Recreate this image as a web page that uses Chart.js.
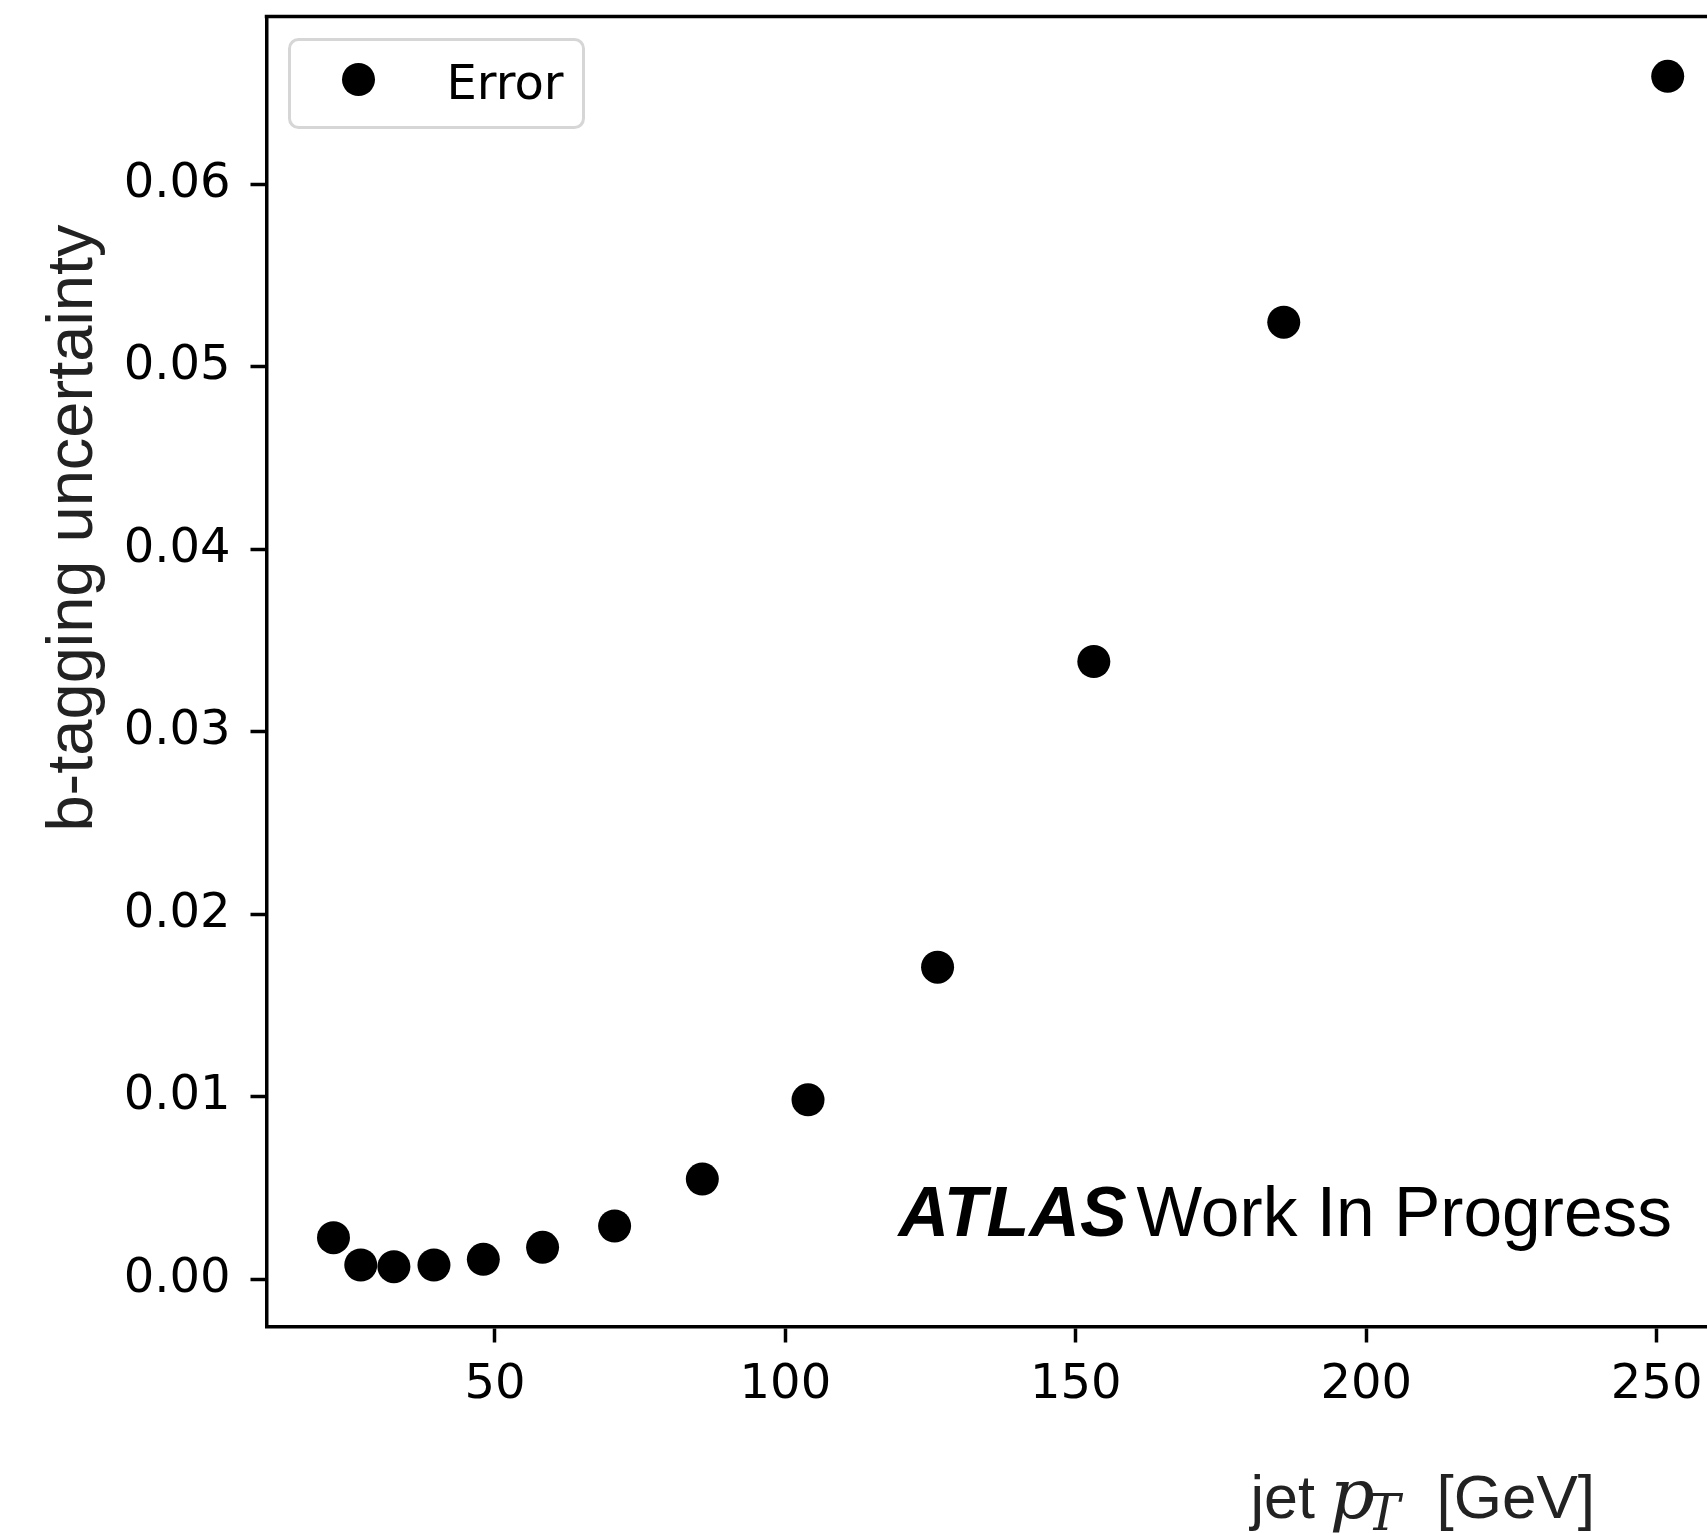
<!DOCTYPE html>
<html>
<head>
<meta charset="utf-8">
<script src="https://cdn.jsdelivr.net/npm/chart.js@4/dist/chart.umd.min.js"></script>
<style>
  html, body { margin: 0; padding: 0; background: #ffffff; overflow: hidden; }
  #wrap { width: 1760px; height: 1533px; }
</style>
</head>
<body>
<div id="wrap"><canvas id="c" width="1760" height="1533"></canvas></div>
<script>
// ---- data ----
const seriesLabel = 'Error';
const jetPt = [22.2, 26.9, 32.6, 39.5, 48.0, 58.2, 70.6, 85.7, 103.9, 126.2, 153.1, 185.8, 251.9];
const btagUncertainty = [0.00228, 0.00078, 0.00069, 0.00078, 0.00109, 0.00175, 0.00292, 0.00549, 0.00983, 0.01710, 0.03385, 0.05244, 0.06591];
const xTickValues = [50, 100, 150, 200, 250];
const yTickValues = [0.00, 0.01, 0.02, 0.03, 0.04, 0.05, 0.06];
const yAxisTitle = 'b-tagging uncertainty';
const xAxisTitleParts = ['jet ', 'p', 'T', '  [GeV]'];
const atlasBold = 'ATLAS';
const atlasRest = 'Work In Progress';

const points = jetPt.map((x, i) => ({ x: x, y: btagUncertainty[i] }));

const SANS = '"DejaVu Sans"';
const HELV = '"Liberation Sans", Arial, sans-serif';

const framePlugin = {
  id: 'frame',
  afterDatasetsDraw(chart) {
    const { ctx, chartArea: a } = chart;
    ctx.save();
    ctx.strokeStyle = '#000';
    ctx.lineWidth = 3.5;
    ctx.beginPath();
    ctx.moveTo(a.left - 1.75, a.top);
    ctx.lineTo(a.right + 1.75, a.top);
    ctx.moveTo(a.right, a.top);
    ctx.lineTo(a.right, a.bottom);
    ctx.stroke();
    ctx.restore();
  },
  afterDraw(chart) {
    const { ctx, chartArea: a } = chart;
    const ds = chart.data.datasets[0];
    // legend box
    ctx.save();
    const lx = a.left + 23, ly = a.top + 23, lw = 294, lh = 88, r = 9;
    ctx.beginPath();
    ctx.roundRect(lx, ly, lw, lh, r);
    ctx.fillStyle = 'rgba(255,255,255,0.8)';
    ctx.fill();
    ctx.lineWidth = 3;
    ctx.strokeStyle = '#d6d6d6';
    ctx.stroke();
    ctx.beginPath();
    ctx.arc(lx + 69, ly + 40, ds.pointRadius, 0, Math.PI * 2);
    ctx.fillStyle = ds.backgroundColor;
    ctx.fill();
    ctx.fillStyle = '#000';
    ctx.font = '48px ' + SANS;
    ctx.textBaseline = 'alphabetic';
    ctx.textAlign = 'left';
    ctx.fillText(ds.label, lx + 157, ly + 59);
    ctx.restore();

    // ATLAS label
    ctx.save();
    ctx.fillStyle = '#000';
    ctx.textBaseline = 'alphabetic';
    ctx.textAlign = 'left';
    const ab = a.bottom - 90.5;
    ctx.font = 'italic bold 70px ' + HELV;
    ctx.fillText(atlasBold, a.left + 632, ab);
    ctx.font = '69.5px ' + HELV;
    ctx.fillText(atlasRest, a.left + 870, ab);
    ctx.restore();

    // y axis title
    ctx.save();
    ctx.fillStyle = '#222';
    ctx.font = '65px ' + HELV;
    ctx.translate(a.left - 174.5, a.top + 511.5);
    ctx.rotate(-Math.PI / 2);
    ctx.textAlign = 'center';
    ctx.textBaseline = 'alphabetic';
    ctx.fillText(yAxisTitle, 0, 0);
    ctx.restore();

    // x axis title: jet p_T [GeV]
    ctx.save();
    ctx.fillStyle = '#222';
    ctx.textBaseline = 'alphabetic';
    ctx.textAlign = 'left';
    const bx = a.left + 984, by = a.bottom + 191;
    ctx.font = '61px ' + HELV;
    ctx.fillText(xAxisTitleParts[0], bx, by);
    let x = bx + ctx.measureText(xAxisTitleParts[0]).width;
    ctx.font = 'italic 70px "DejaVu Serif"';
    ctx.fillText(xAxisTitleParts[1], x - 2, by);
    x += ctx.measureText(xAxisTitleParts[1]).width;
    ctx.font = 'italic 50px "DejaVu Serif"';
    ctx.fillText(xAxisTitleParts[2], x - 10, by + 12);
    x += ctx.measureText(xAxisTitleParts[2]).width - 8;
    ctx.font = '62px ' + HELV;
    ctx.fillText(xAxisTitleParts[3], x, by);
    ctx.restore();
  }
};

new Chart(document.getElementById('c'), {
  type: 'scatter',
  data: {
    datasets: [{
      label: seriesLabel,
      data: points,
      backgroundColor: '#000000',
      borderColor: '#000000',
      borderWidth: 0,
      pointRadius: 16.5,
      pointHoverRadius: 16.5,
      showLine: false
    }]
  },
  options: {
    responsive: false,
    animation: false,
    devicePixelRatio: 1,
    layout: { padding: { left: 0, top: 15, right: 25.5, bottom: 0 } },
    plugins: { legend: { display: false }, tooltip: { enabled: false } },
    scales: {
      x: {
        type: 'linear',
        position: 'bottom',
        min: 10.67,
        max: 263.4,
        afterFit(scale) {
          scale.height = 1533 - 1326.5;
          scale.paddingLeft = 0; scale.paddingRight = 0;
        },
        afterBuildTicks(scale) { scale.ticks = xTickValues.map(v => ({ value: v })); },
        grid: { drawOnChartArea: false, drawTicks: true, tickLength: 16, tickWidth: 3.5, tickColor: '#000' },
        border: { display: true, color: '#000', width: 3.5 },
        ticks: {
          color: '#000',
          font: { family: 'DejaVu Sans', size: 48 },
          padding: 14,
          maxRotation: 0,
          autoSkip: false,
          callback: v => String(v)
        }
      },
      y: {
        type: 'linear',
        min: -0.002589,
        max: 0.06919,
        afterFit(scale) {
          scale.width = 266.5;
          scale.paddingTop = 0; scale.paddingBottom = 0;
        },
        afterBuildTicks(scale) { scale.ticks = yTickValues.map(v => ({ value: v })); },
        grid: { drawOnChartArea: false, drawTicks: true, tickLength: 16, tickWidth: 3.5, tickColor: '#000' },
        border: { display: true, color: '#000', width: 3.5 },
        ticks: {
          color: '#000',
          font: { family: 'DejaVu Sans', size: 48 },
          padding: 20,
          autoSkip: false,
          callback: v => v.toFixed(2)
        }
      }
    }
  },
  plugins: [framePlugin]
});
</script>
</body>
</html>
